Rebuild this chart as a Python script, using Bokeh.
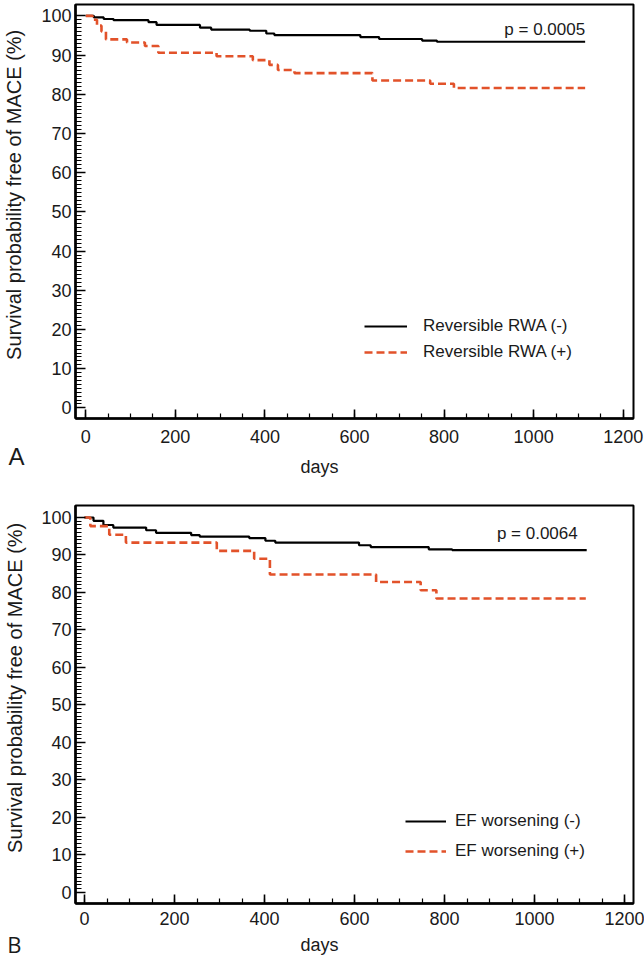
from bokeh.plotting import figure
from bokeh.layouts import column
from bokeh.models import Range1d, FixedTicker, Label
from bokeh.embed import file_html
from bokeh.resources import INLINE

# ---------------- data ----------------
# Panel A : Reversible RWA
a_neg_days = [0, 18, 40, 62, 140, 158, 255, 280, 366, 403, 421, 613, 655, 751, 784, 1115]
a_neg_surv = [100, 99.6, 99.2, 98.9, 98.4, 97.7, 97.0, 96.5, 96.2, 95.5, 95.1, 94.6, 94.1, 93.7, 93.4, 93.4]
a_pos_days = [0, 15, 25, 35, 45, 92, 132, 162, 292, 373, 410, 429, 466, 640, 769, 822, 1115]
a_pos_surv = [100, 99.0, 97.5, 96.0, 94.0, 93.2, 92.3, 90.6, 89.7, 88.7, 87.5, 86.2, 85.4, 83.5, 82.7, 81.6, 81.6]

# Panel B : EF worsening
b_neg_days = [0, 20, 42, 64, 137, 159, 237, 256, 366, 402, 424, 610, 636, 765, 817, 1116]
b_neg_surv = [100, 99.1, 98.0, 97.3, 96.6, 95.9, 95.3, 94.9, 94.5, 93.8, 93.3, 92.6, 92.1, 91.5, 91.3, 91.3]
b_pos_days = [0, 13, 55, 92, 294, 377, 412, 648, 747, 782, 1114]
b_pos_surv = [100, 97.7, 95.4, 93.3, 91.1, 89.0, 84.8, 82.8, 80.6, 78.4, 78.4]

x_ticks = [0, 200, 400, 600, 800, 1000, 1200]
x_minor = list(range(0, 1201, 50))
y_ticks = list(range(0, 101, 10))
y_minor = list(range(0, 101, 1))

labels_a = ["Reversible RWA (-)", "Reversible RWA (+)"]
labels_b = ["EF worsening (-)", "EF worsening (+)"]
p_text_a = "p = 0.0005"
p_text_b = "p = 0.0064"
y_title = "Survival probability free of MACE (%)"
x_title = "days"
letters = ["A", "B"]

FONT = "Liberation Sans"
RED = "#E2522A"
TXT = "#1a1a1a"
NB = "\u00a0"
W = 644


def make_panel(width, height, borders, x_rng, y_rng, neg, pos, labels, ptxt, pxy,
               legend_loc, legend_spacing, glyph_w, label_standoff,
               tick_standoff, x_label_standoff, y_label_standoff):
    top, right, bottom, left = borders
    p = figure(width=width, height=height, output_backend="svg", toolbar_location=None,
               x_range=Range1d(*x_rng), y_range=Range1d(*y_rng),
               min_border_top=top, min_border_right=right,
               min_border_bottom=bottom, min_border_left=left)
    p.background_fill_color = "white"
    p.border_fill_color = "white"
    p.outline_line_color = "black"
    p.outline_line_width = 2
    p.xgrid.visible = False
    p.ygrid.visible = False

    for ax in (p.xaxis[0], p.yaxis[0]):
        ax.axis_line_width = 2.5
        ax.axis_line_color = "black"
        ax.major_tick_line_color = "black"
        ax.minor_tick_line_color = "black"
        ax.major_tick_line_width = 1.6
        ax.minor_tick_line_width = 1.2
        ax.major_tick_out = 0
        ax.minor_tick_out = 0
        ax.major_label_text_font = FONT
        ax.major_label_text_color = TXT
        ax.major_label_text_font_size = "18px"
        ax.axis_label_text_font = FONT
        ax.axis_label_text_font_style = "normal"
        ax.axis_label_text_color = TXT

    p.xaxis.ticker = FixedTicker(ticks=x_ticks, minor_ticks=x_minor)
    p.yaxis.ticker = FixedTicker(ticks=y_ticks, minor_ticks=y_minor)
    p.xaxis.major_tick_in = 9
    p.xaxis.minor_tick_in = 5
    p.yaxis.major_tick_in = 10
    p.yaxis.minor_tick_in = 6
    p.xaxis.major_label_standoff = tick_standoff
    p.yaxis.major_label_standoff = 4

    # x title: trailing no-break spaces move the visible word left of frame centre
    p.xaxis.axis_label = x_title + NB * 14
    p.xaxis.axis_label_text_font_size = "18px"
    p.xaxis.axis_label_standoff = x_label_standoff
    # y title: leading no-break spaces move it up a little
    p.yaxis.axis_label = NB * 6 + y_title
    p.yaxis.axis_label_text_font_size = "20px"
    p.yaxis.axis_label_standoff = y_label_standoff

    (nd, ns), (pd_, ps) = neg, pos
    p.step(nd, ns, mode="after", line_color="black", line_width=2.2,
           legend_label=labels[0])
    p.step(pd_, ps, mode="after", line_color=RED, line_width=2.6,
           line_dash="8 4", legend_label=labels[1])

    lg = p.legend[0]
    lg.location = legend_loc
    lg.padding = 0
    lg.margin = 0
    lg.spacing = legend_spacing
    lg.border_line_alpha = 0
    lg.background_fill_alpha = 0
    lg.glyph_width = glyph_w
    lg.glyph_height = 20
    lg.label_height = 20
    lg.label_standoff = label_standoff
    lg.label_text_font = FONT
    lg.label_text_font_size = "17px"
    lg.label_text_color = TXT

    p.add_layout(Label(x=pxy[0], y=pxy[1], text=ptxt, text_align="right",
                       text_baseline="alphabetic", text_font=FONT,
                       text_font_size="17px", text_color=TXT))
    return p


def letter_panel(text, height, tick_y, standoff, font, size, margin):
    # transparent strip; the panel letter is the single tick label of its left axis
    q = figure(width=W, height=height, output_backend="svg", toolbar_location=None,
               title=None, x_range=Range1d(0, 1), y_range=Range1d(0, height),
               x_axis_location=None, y_axis_location="left",
               min_border_left=72, min_border_right=11,
               min_border_top=0, min_border_bottom=0, margin=margin)
    q.outline_line_color = None
    q.background_fill_alpha = 0
    q.border_fill_alpha = 0
    q.xgrid.visible = False
    q.ygrid.visible = False
    ax = q.yaxis[0]
    ax.ticker = FixedTicker(ticks=[tick_y], minor_ticks=[])
    ax.major_label_overrides = {tick_y: text}
    ax.axis_line_color = None
    ax.major_tick_line_color = None
    ax.minor_tick_line_color = None
    ax.major_tick_out = 0
    ax.major_tick_in = 0
    ax.major_label_standoff = standoff
    ax.major_label_text_font = font
    ax.major_label_text_font_size = size
    ax.major_label_text_color = TXT
    return q


pA = make_panel(W, 487, (4, 11, 69, 72), (-23, 1223), (-2.7, 102.9),
                (a_neg_days, a_neg_surv), (a_pos_days, a_pos_surv), labels_a,
                p_text_a, (1115, 96.6), (289, 56), 6, 43, 16, 11, 11, 13)

pB = make_panel(W, 473, (18, 11, 57, 72), (-20, 1220), (-3.0, 103.2),
                (b_neg_days, b_neg_surv), (b_pos_days, b_pos_surv), labels_b,
                p_text_b, (1096, 95.8), (330, 42), 10, 41, 9, 8, 7, 12)

# panel letters sit in the empty lower-left corner of each panel
letA = letter_panel(letters[0], 36, 18, 51, FONT, "24px", (-49, 0, 13, 0))
letB = letter_panel(letters[1], 40, 13, 54, "Open Sans", "22px", (-40, 0, 0, 0))

layout = column(pA, letA, pB, letB, spacing=0)

open("out.html", "w").write(file_html(layout, INLINE))
